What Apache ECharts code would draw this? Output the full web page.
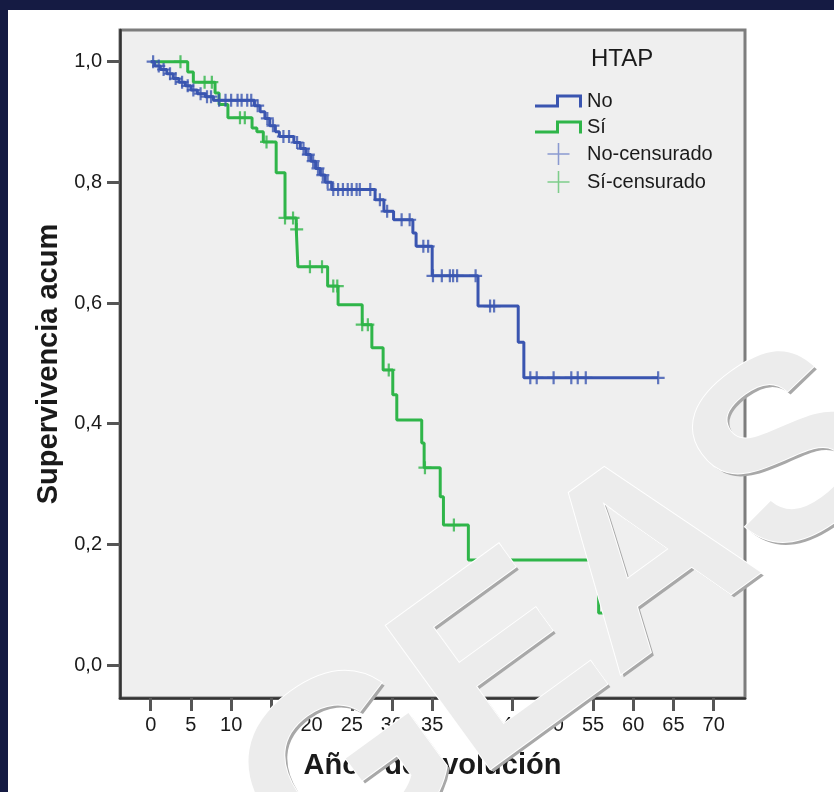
<!DOCTYPE html>
<html><head><meta charset="utf-8">
<script src="https://cdn.jsdelivr.net/npm/echarts@6/dist/echarts.min.js"></script>
<style>html,body{margin:0;padding:0;background:#fff}#c{width:834px;height:792px}</style>
</head><body><div id="c"></div>
<script>
// ---- data ----
const xTicks = [0,5,10,15,20,25,30,35,40,45,50,55,60,65,70];
const yTicks = [0,0.2,0.4,0.6,0.8,1.0];
const yTickLabels = ['0,0','0,2','0,4','0,6','0,8','1,0'];
const groupNames = ['No','Sí','No-censurado','Sí-censurado'];
const legendTitle = 'HTAP';
const xTitle = 'Años de evolución';
const yTitle = 'Supervivencia acum';
const watermark = 'GEAS';

// Kaplan-Meier steps [years, survival]
const noSteps = [[0,1.0],[0.5,0.993],[1.2,0.987],[2.0,0.98],[2.8,0.972],[3.5,0.966],[4.3,0.96],[5.0,0.953],[5.8,0.947],[6.8,0.942],[7.8,0.936],[12.9,0.927],[13.6,0.917],[14.2,0.906],[14.8,0.894],[15.5,0.884],[16.0,0.876],[17.8,0.866],[18.6,0.856],[19.3,0.846],[19.9,0.835],[20.5,0.823],[21.1,0.812],[21.7,0.8],[22.5,0.788],[27.9,0.771],[29.0,0.752],[30.2,0.738],[32.6,0.716],[33.0,0.694],[35.0,0.645],[40.7,0.595],[45.7,0.535],[46.4,0.476],[63.1,0.476]];
const siSteps = [[0,1.0],[4.6,0.983],[5.3,0.966],[8.0,0.948],[8.5,0.929],[9.6,0.907],[12.6,0.89],[13.2,0.884],[14.0,0.867],[15.6,0.816],[16.7,0.741],[18.1,0.722],[18.3,0.66],[22.0,0.628],[23.3,0.597],[26.3,0.564],[27.5,0.526],[28.9,0.489],[30.1,0.448],[30.6,0.406],[33.7,0.368],[34.0,0.327],[36.0,0.279],[36.4,0.232],[39.5,0.174],[55.7,0.086],[57.5,0.086]];
// censored observations [years, survival]
const noCensored = [[0.3,1.0],[1.0,0.993],[1.6,0.987],[2.4,0.98],[3.1,0.972],[3.9,0.966],[4.6,0.96],[5.3,0.953],[6.2,0.947],[7.0,0.942],[7.5,0.942],[8.5,0.936],[9.3,0.936],[10.0,0.936],[10.8,0.936],[11.3,0.936],[12.0,0.936],[12.5,0.936],[13.3,0.927],[14.5,0.906],[15.2,0.894],[16.5,0.876],[17.2,0.876],[18.2,0.866],[19.0,0.856],[19.6,0.846],[20.2,0.835],[20.8,0.823],[21.4,0.812],[22.0,0.8],[22.7,0.788],[23.3,0.788],[23.9,0.788],[24.5,0.788],[25.0,0.788],[25.6,0.788],[26.0,0.788],[27.3,0.788],[28.5,0.771],[29.4,0.752],[31.2,0.738],[32.2,0.738],[33.9,0.694],[34.5,0.694],[35.1,0.645],[36.2,0.645],[37.2,0.645],[37.6,0.645],[38.1,0.645],[40.4,0.645],[42.2,0.595],[42.7,0.595],[47.2,0.476],[48.0,0.476],[50.1,0.476],[52.3,0.476],[53.1,0.476],[54.1,0.476],[63.1,0.476]];
const siCensored = [[3.7,1.0],[6.7,0.966],[7.6,0.966],[11.1,0.907],[11.7,0.907],[14.4,0.867],[16.7,0.741],[17.7,0.741],[18.15,0.722],[19.8,0.66],[21.3,0.66],[22.7,0.628],[23.2,0.628],[26.3,0.564],[27.0,0.564],[29.6,0.489],[34.1,0.327],[37.7,0.232]];

// ---- style ----
const FONT = 'Liberation Sans, Arial, sans-serif';
const BLUE = '#3a55b0', GREEN = '#2fb549', NAVY = '#151b43';
const stepIcon = 'path://M0,10 L21,10 L21,0 L47,0 L47,13 L44,13 L44,3 L24,3 L24,13 L0,13 Z';
const plusThin = 'path://M9.3,0 L10.7,0 L10.7,9.3 L20,9.3 L20,10.7 L10.7,10.7 L10.7,20 L9.3,20 L9.3,10.7 L0,10.7 L0,9.3 L9.3,9.3 Z';
const plusMark = 'path://M8.3,0 L11.7,0 L11.7,8.3 L20,8.3 L20,11.7 L11.7,11.7 L11.7,20 L8.3,20 L8.3,11.7 L0,11.7 L0,8.3 L8.3,8.3 Z';
const wmFont = 'bold 258px "Liberation Sans", Arial, sans-serif';
const wmRot = 36 * Math.PI / 180;

const chart = echarts.init(document.getElementById('c'), null, {renderer: 'canvas'});
chart.setOption({
  animation: false,
  backgroundColor: '#ffffff',
  title: {text: legendTitle, left: 591, top: 47, padding: 0,
    textStyle: {fontFamily: FONT, fontSize: 24, fontWeight: 'normal', color: '#1a1a1a'}},
  legend: {
    orient: 'vertical', left: 530, top: 86, itemWidth: 47, itemHeight: 22, itemGap: 6,
    selectedMode: false,
    textStyle: {fontFamily: FONT, fontSize: 20, color: '#1a1a1a'},
    data: [
      {name: groupNames[0], icon: stepIcon, itemStyle: {color: BLUE, borderWidth: 0}},
      {name: groupNames[1], icon: stepIcon, itemStyle: {color: GREEN, borderWidth: 0}},
      {name: groupNames[2], icon: plusThin, itemStyle: {color: '#7083c8', borderWidth: 0}},
      {name: groupNames[3], icon: plusThin, itemStyle: {color: '#62c472', borderWidth: 0}}
    ]
  },
  grid: {left: 120, right: 89, top: 30, bottom: 94, show: true,
    backgroundColor: '#efefef', borderColor: '#7d7d7d', borderWidth: 3},
  xAxis: {
    type: 'value', min: -3.82, max: 73.9,
    name: xTitle, nameLocation: 'middle', nameGap: 53,
    nameTextStyle: {fontFamily: FONT, fontSize: 29, fontWeight: 'bold', color: '#1a1a1a'},
    axisLine: {show: true, onZero: false, lineStyle: {color: '#333', width: 2.5}},
    axisTick: {show: true, length: 13, customValues: xTicks, lineStyle: {color: '#555', width: 3}},
    axisLabel: {customValues: xTicks, margin: 17, fontFamily: FONT, fontSize: 20, color: '#1a1a1a'},
    splitLine: {show: false}
  },
  yAxis: {
    type: 'value', min: -0.0547, max: 1.0525,
    name: yTitle, nameLocation: 'middle', nameGap: 45, nameRotate: 90,
    nameTextStyle: {fontFamily: FONT, fontSize: 29, fontWeight: 'bold', color: '#1a1a1a'},
    axisLine: {show: true, onZero: false, lineStyle: {color: '#333', width: 2.5}},
    axisTick: {show: true, length: 13, customValues: yTicks, lineStyle: {color: '#555', width: 3}},
    axisLabel: {customValues: yTicks, margin: 18, fontFamily: FONT, fontSize: 20, color: '#1a1a1a',
      formatter: v => { const i = yTicks.findIndex(t => Math.abs(t - v) < 1e-6); return i >= 0 ? yTickLabels[i] : ''; }},
    splitLine: {show: false}
  },
  series: [
    {name: groupNames[1], type: 'line', step: 'end', data: siSteps, symbol: 'none', z: 2,
      lineStyle: {color: GREEN, width: 3}, itemStyle: {color: GREEN}},
    {name: groupNames[0], type: 'line', step: 'end', data: noSteps, symbol: 'none', z: 3,
      lineStyle: {color: BLUE, width: 3}, itemStyle: {color: BLUE}},
    {name: groupNames[3], type: 'scatter', data: siCensored, symbol: plusMark, symbolSize: 13, z: 4,
      itemStyle: {color: GREEN}},
    {name: groupNames[2], type: 'scatter', data: noCensored, symbol: plusMark, symbolSize: 13, z: 5,
      itemStyle: {color: BLUE}}
  ],
  graphic: [
    {type: 'rect', shape: {x: 0, y: 0, width: 834, height: 10}, style: {fill: NAVY}, z: 200},
    {type: 'rect', shape: {x: 0, y: 0, width: 8, height: 792}, style: {fill: NAVY}, z: 200},
    // watermark: dark under-layer (emboss shadow) + light top layer
    {type: 'text', x: 351, y: 947, rotation: wmRot, z: 150,
      style: {text: watermark, font: wmFont, textAlign: 'left', textVerticalAlign: 'bottom',
        fill: '#a8a8a8', shadowColor: 'rgba(0,0,0,0.35)', shadowBlur: 3}},
    {type: 'text', x: 348, y: 944, rotation: wmRot, z: 151,
      style: {text: watermark, font: wmFont, textAlign: 'left', textVerticalAlign: 'bottom',
        fill: '#ececec', stroke: '#ffffff', lineWidth: 2}}
  ]
});
</script></body></html>
